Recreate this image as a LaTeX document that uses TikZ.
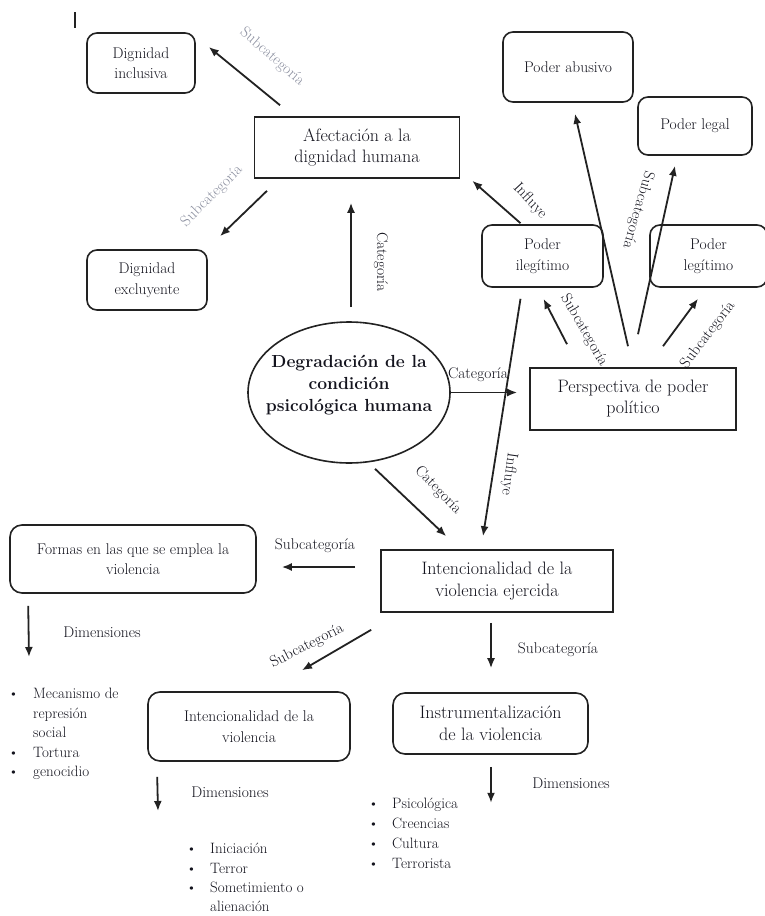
\documentclass[tikz,border=0pt]{standalone}
\usepackage{tikz}
\usetikzlibrary{arrows.meta}
\usetikzlibrary{shapes.geometric}

\definecolor{txtcol}{HTML}{14141E}
\definecolor{linecol}{HTML}{222222}
\definecolor{palecol}{HTML}{8C90A0}

\begin{document}
\begin{tikzpicture}[x=1pt,y=-1pt]
    \tikzstyle{every node}=[text=txtcol,inner sep=0pt,align=center]
    \tikzstyle{box}=[draw=linecol,line width=1.6pt]
    \tikzstyle{rbox}=[box,rounded corners=10pt]
    \tikzstyle{bigfont}=[font=\fontsize{18}{21}\selectfont]
    \tikzstyle{lowfont}=[font=\fontsize{18}{22}\selectfont]
    \tikzstyle{midfont}=[font=\fontsize{15.5}{20.5}\selectfont]
    \tikzstyle{lbl}=[font=\fontsize{15.5}{18}\selectfont]
    \tikzstyle{dimlist}=[anchor=north west,align=left]
    \tikzstyle{arr}=[-{Latex[length=10pt,width=8pt]},line width=1.8pt,draw=linecol]

    \fill[white] (0,0) rectangle (764,916);
    \useasboundingbox (0,0) rectangle (764,916);

    \draw[line width=1.5pt,linecol] (75,12) -- (75,28);

    % upper part
    \node[box,bigfont,minimum width=205pt,minimum height=61pt] (afect) at (357,147.5) {Afectación a la\\dignidad humana};
    \node[rbox,midfont,minimum width=108pt,minimum height=60pt] (inclusiva) at (141,63) {Dignidad\\inclusiva};
    \node[rbox,midfont,minimum width=120pt,minimum height=60pt] (excluyente) at (147,280) {Dignidad\\excluyente};

    \node[ellipse,box,minimum width=202pt,minimum height=141pt] (degrad) at (349,392.5) {};
    \node[font=\bfseries\fontsize{17.5}{22}\selectfont] (degradtxt) at (349,385) {Degradación de la\\condición\\psicológica humana};

    \node[rbox,midfont,minimum width=130pt,minimum height=70pt] (abusivo) at (568,67) {Poder abusivo};
    \node[rbox,midfont,minimum width=114pt,minimum height=58pt] (legal) at (695,126) {Poder legal};
    \node[rbox,midfont,minimum width=121pt,minimum height=62pt] (ilegitimo) at (542.5,256) {Poder\\ilegítimo};
    \node[rbox,midfont,minimum width=117pt,minimum height=62pt] (legitimo) at (708.5,256) {Poder\\legítimo};
    \node[box,bigfont,minimum width=206pt,minimum height=62pt] (perspectiva) at (633,399) {Perspectiva de poder\\político};

    % lower part
    \node[box,lowfont,minimum width=232pt,minimum height=62pt] (ejercida) at (497,581) {Intencionalidad de la\\violencia ejercida};
    \node[rbox,midfont,rounded corners=12pt,minimum width=246pt,minimum height=68pt] (formas) at (133,559) {Formas en las que se emplea la\\violencia};
    \node[rbox,midfont,rounded corners=12pt,minimum width=202pt,minimum height=69pt] (intenc) at (249,726.5) {Intencionalidad de la\\violencia};
    \node[rbox,lowfont,rounded corners=12pt,minimum width=195pt,minimum height=61pt] (instrum) at (490.5,723.5) {Instrumentalización\\de la violencia};

    \node[dimlist,font=\fontsize{15}{19.5}\selectfont] (dimformas) at (8,685)
      {\begin{tabular}{@{}p{25pt}@{}l@{}}\textbullet & Mecanismo de\\ & represión\\ & social\\ \textbullet & Tortura\\ \textbullet & genocidio\end{tabular}};
    \node[dimlist,font=\fontsize{15}{19.3}\selectfont] (dimintenc) at (186,840)
      {\begin{tabular}{@{}p{24pt}@{}l@{}}\textbullet & Iniciación\\ \textbullet & Terror\\ \textbullet & Sometimiento o\\ & alienación\end{tabular}};
    \node[dimlist,font=\fontsize{15}{20}\selectfont] (diminstrum) at (368,794)
      {\begin{tabular}{@{}p{24pt}@{}l@{}}\textbullet & Psicológica\\ \textbullet & Creencias\\ \textbullet & Cultura\\ \textbullet & Terrorista\end{tabular}};

    % labels on the arrows
    \node[lbl,text=palecol,rotate=-41] (sub1) at (272,57) {Subcategoría};
    \node[lbl,text=palecol,rotate=45] (sub2) at (212,196) {Subcategoría};
    \node[lbl,rotate=-90] (cat1) at (381,262) {Categoría};
    \node[lbl] (cat2) at (478,375) {Categoría};
    \node[lbl,rotate=-47] (inf1) at (530,201) {Influye};
    \node[lbl,rotate=-60] (sub3) at (584,330) {Subcategoría};
    \node[lbl,rotate=-106] (sub4) at (638,210) {Subcategoría};
    \node[lbl,rotate=53] (sub5) at (708,335) {Subcategoría};
    \node[lbl,rotate=-98] (inf2) at (509,474) {Influye};
    \node[lbl,rotate=-46] (cat3) at (438,490) {Categoría};
    \node[lbl] (sub6) at (315,546) {Subcategoría};
    \node[lbl] (dim1) at (102,632) {Dimensiones};
    \node[lbl,rotate=27] (sub7) at (307,646) {Subcategoría};
    \node[lbl] (sub8) at (558,650) {Subcategoría};
    \node[lbl] (dim2) at (230,792) {Dimensiones};
    \node[lbl] (dim3) at (571,783) {Dimensiones};

    % arrows
    \draw[arr] ([xshift=-77pt,yshift=11pt]afect.north) -- ([xshift=13pt,yshift=16pt]inclusiva.east);
    \draw[arr] ([xshift=-90pt,yshift=-12pt]afect.south) -- ([xshift=73pt,yshift=13pt]excluyente.north);
    \draw[arr] ([xshift=2pt,yshift=14pt]degrad.north) -- ([xshift=-6pt,yshift=-24pt]afect.south);
    \draw[arr] (degrad.east) -- ([xshift=-12pt]perspectiva.west |- degrad.east);
    \draw[arr] ([xshift=-22pt,yshift=1pt]ilegitimo.north) -- ([xshift=12pt,yshift=-2pt]afect.south east);
    \draw[arr] ([xshift=-66pt,yshift=23pt]perspectiva.north) -- ([xshift=1pt,yshift=-11pt]ilegitimo.south);
    \draw[arr] ([xshift=-5pt,yshift=21pt]perspectiva.north) -- ([xshift=7pt,yshift=-11pt]abusivo.south);
    \draw[arr] ([xshift=5pt,yshift=33pt]perspectiva.north) -- ([xshift=-20pt,yshift=-10pt]legal.south);
    \draw[arr] ([xshift=30pt,yshift=21pt]perspectiva.north) -- ([xshift=-10.5pt,yshift=-11pt]legitimo.south);
    \draw[arr] ([xshift=-22pt,yshift=-11pt]ilegitimo.south) -- ([xshift=-14pt,yshift=13pt]ejercida.north);
    \draw[arr] ([xshift=26pt,yshift=-5pt]degrad.south) -- ([xshift=66pt,yshift=13pt]ejercida.north west);
    \draw[arr] ([xshift=-25pt,yshift=14pt]ejercida.west) -- ([xshift=25pt,yshift=-8pt]formas.east);
    \draw[arr] ([xshift=19pt,yshift=-12pt]formas.south west) -- ([xshift=21pt,yshift=28pt]dimformas.north west);
    \draw[arr] ([xshift=-9pt,yshift=-17pt]ejercida.south west) -- ([xshift=53pt,yshift=21pt]intenc.north);
    \draw[arr] ([xshift=-6pt,yshift=-10pt]ejercida.south) -- ([xshift=0.5pt,yshift=24pt]instrum.north);
    \draw[arr] ([xshift=10pt,yshift=-15pt]intenc.south west) -- ([xshift=-28pt,yshift=29pt]dimintenc.north west);
    \draw[arr] ([xshift=0.5pt,yshift=-12pt]instrum.south) -- ([xshift=0.5pt,yshift=-48pt]instrum.south);

\end{tikzpicture}
\end{document}
